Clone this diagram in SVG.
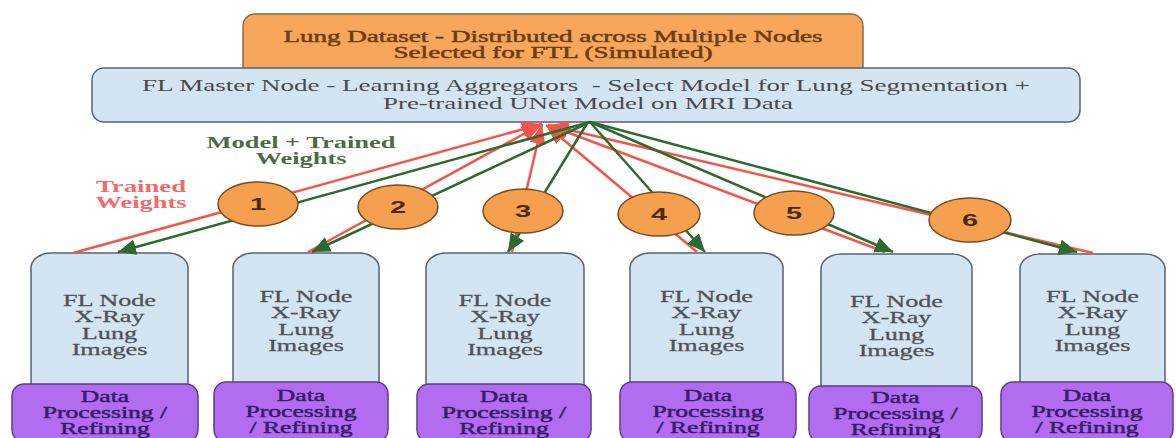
<svg xmlns="http://www.w3.org/2000/svg" width="1176" height="438" viewBox="0 0 1176 438">
<defs>
<style>
.serif{font-family:"Liberation Serif","Times New Roman",serif;}
.sans{font-family:"Liberation Sans",Arial,sans-serif;}
.orange{fill:#f7a65c;stroke:#8c6a4a;stroke-width:1.5;}
.blue{fill:#d3e5f3;stroke:#5a6270;stroke-width:1.5;}
.purple{fill:#b16cf0;stroke:#5b3b86;stroke-width:1.5;}
.circ{fill:#f5a04f;stroke:#7a4a20;stroke-width:1.5;}
.t-orange{fill:#6b3d12;stroke:#6b3d12;stroke-width:0.45;font-size:16px;text-anchor:middle;}
.t-master{fill:#4a4a4a;font-size:17px;text-anchor:middle;}
.t-node{fill:#4d5257;stroke:#4d5257;stroke-width:0.25;font-size:16px;text-anchor:middle;}
.t-purple{fill:#3a1a6a;stroke:#3a1a6a;stroke-width:0.45;font-size:16px;text-anchor:middle;}
.t-num{fill:#4a2a12;font-size:17px;font-weight:bold;text-anchor:middle;}
.t-green{fill:#4f6b45;font-size:16px;font-weight:bold;text-anchor:middle;}
.t-red{fill:#f26a6a;font-size:16px;font-weight:bold;text-anchor:middle;}
.red{stroke:#f4554a;stroke-width:2.5;fill:none;}
.green{stroke:#2d6a2f;stroke-width:2.5;fill:none;}
</style>
<marker id="ahg" markerUnits="userSpaceOnUse" markerWidth="20" markerHeight="18" refX="18" refY="8" orient="auto">
<path d="M0,0 L18,8 L0,16 z" fill="#2d6a2f"/>
</marker>
<marker id="ahr" markerUnits="userSpaceOnUse" markerWidth="22" markerHeight="18" refX="20" refY="8" orient="auto">
<path d="M0,0 L20,8 L0,16 z" fill="#f4554a"/>
</marker>
</defs>

<g id="dataset">
<rect class="orange" x="243" y="14" width="620" height="66" rx="12"/>
<text class="serif t-orange" x="553" y="42" textLength="539" lengthAdjust="spacingAndGlyphs">Lung Dataset - Distributed across Multiple Nodes</text>
<text class="serif t-orange" x="553" y="58" textLength="319" lengthAdjust="spacingAndGlyphs">Selected for FTL (Simulated)</text>
</g>

<g id="master">
<rect class="blue" x="92" y="68" width="988" height="54" rx="12"/>
<text class="serif t-master" x="586" y="91" textLength="888" lengthAdjust="spacingAndGlyphs" xml:space="preserve">FL Master Node - Learning Aggregators  - Select Model for Lung Segmentation +</text>
<text class="serif t-master" x="588" y="109" textLength="410" lengthAdjust="spacingAndGlyphs">Pre-trained UNet Model on MRI Data</text>
</g>

<g id="labels">
<text class="serif t-green" x="301" y="148" textLength="189" lengthAdjust="spacingAndGlyphs">Model + Trained</text>
<text class="serif t-green" x="301" y="164" textLength="91" lengthAdjust="spacingAndGlyphs">Weights</text>
<text class="serif t-red" x="141" y="192" textLength="90" lengthAdjust="spacingAndGlyphs">Trained</text>
<text class="serif t-red" x="141" y="208" textLength="91" lengthAdjust="spacingAndGlyphs">Weights</text>
</g>

<g id="node1">
<rect class="blue" x="31" y="253" width="157" height="150" rx="20" ry="15"/>
<text class="serif t-node" transform="translate(109.5,0) scale(1.64,1)"><tspan x="0" y="306">FL Node</tspan><tspan x="0" y="322.5">X-Ray</tspan><tspan x="0" y="339">Lung</tspan><tspan x="0" y="355">Images</tspan></text>
<rect class="purple" x="12" y="384" width="186" height="58" rx="12"/>
<text class="serif t-purple" transform="translate(105,0) scale(1.6,1)"><tspan x="0" y="402">Data</tspan><tspan x="0" y="418">Processing /</tspan><tspan x="0" y="434">Refining</tspan></text>
</g>

<g id="node2">
<rect class="blue" x="233" y="253" width="146" height="150" rx="20" ry="15"/>
<text class="serif t-node" transform="translate(306,0) scale(1.64,1)"><tspan x="0" y="302">FL Node</tspan><tspan x="0" y="318.5">X-Ray</tspan><tspan x="0" y="335">Lung</tspan><tspan x="0" y="351">Images</tspan></text>
<rect class="purple" x="214" y="382" width="174" height="60" rx="12"/>
<text class="serif t-purple" transform="translate(301,0) scale(1.6,1)"><tspan x="0" y="401">Data</tspan><tspan x="0" y="417">Processing</tspan><tspan x="0" y="433">/ Refining</tspan></text>
</g>

<g id="node3">
<rect class="blue" x="426" y="253" width="158" height="150" rx="20" ry="15"/>
<text class="serif t-node" transform="translate(505,0) scale(1.64,1)"><tspan x="0" y="306">FL Node</tspan><tspan x="0" y="322.5">X-Ray</tspan><tspan x="0" y="339">Lung</tspan><tspan x="0" y="355">Images</tspan></text>
<rect class="purple" x="417" y="384" width="174" height="58" rx="12"/>
<text class="serif t-purple" transform="translate(504,0) scale(1.6,1)"><tspan x="0" y="402">Data</tspan><tspan x="0" y="418">Processing /</tspan><tspan x="0" y="434">Refining</tspan></text>
</g>

<g id="node4">
<rect class="blue" x="630" y="253" width="153" height="150" rx="20" ry="15"/>
<text class="serif t-node" transform="translate(706.5,0) scale(1.64,1)"><tspan x="0" y="302">FL Node</tspan><tspan x="0" y="318.5">X-Ray</tspan><tspan x="0" y="335">Lung</tspan><tspan x="0" y="351">Images</tspan></text>
<rect class="purple" x="620" y="382" width="176" height="60" rx="12"/>
<text class="serif t-purple" transform="translate(708,0) scale(1.6,1)"><tspan x="0" y="401">Data</tspan><tspan x="0" y="417">Processing</tspan><tspan x="0" y="433">/ Refining</tspan></text>
</g>

<g id="node5">
<rect class="blue" x="821" y="254" width="151" height="150" rx="20" ry="15"/>
<text class="serif t-node" transform="translate(896.5,0) scale(1.64,1)"><tspan x="0" y="307">FL Node</tspan><tspan x="0" y="323.5">X-Ray</tspan><tspan x="0" y="340">Lung</tspan><tspan x="0" y="356">Images</tspan></text>
<rect class="purple" x="809" y="386" width="173" height="56" rx="12"/>
<text class="serif t-purple" transform="translate(895.5,0) scale(1.6,1)"><tspan x="0" y="403">Data</tspan><tspan x="0" y="419">Processing /</tspan><tspan x="0" y="435">Refining</tspan></text>
</g>

<g id="node6">
<rect class="blue" x="1020" y="254" width="145" height="150" rx="20" ry="15"/>
<text class="serif t-node" transform="translate(1092.5,0) scale(1.64,1)"><tspan x="0" y="302">FL Node</tspan><tspan x="0" y="318.5">X-Ray</tspan><tspan x="0" y="335">Lung</tspan><tspan x="0" y="351">Images</tspan></text>
<rect class="purple" x="1001" y="382" width="172" height="60" rx="12"/>
<text class="serif t-purple" transform="translate(1087,0) scale(1.6,1)"><tspan x="0" y="401">Data</tspan><tspan x="0" y="417">Processing</tspan><tspan x="0" y="433">/ Refining</tspan></text>
</g>

<g id="connectors">
<path class="red" d="M73,253 L542,124" marker-end="url(#ahr)"/>
<path class="red" d="M308,252 L542,124" marker-end="url(#ahr)"/>
<path class="red" d="M512,252 L542,124" marker-end="url(#ahr)"/>
<path class="red" d="M697,252 L546,125" marker-end="url(#ahr)"/>
<path class="red" d="M885,252 L548,125" marker-end="url(#ahr)"/>
<path class="red" d="M1093,253 L548,125" marker-end="url(#ahr)"/>
<path class="green" d="M590,122 L118,252" marker-end="url(#ahg)"/>
<path class="green" d="M590,122 L312,252" marker-end="url(#ahg)"/>
<path class="green" d="M588,122 L508,252" marker-end="url(#ahg)"/>
<path class="green" d="M590,122 L705,252" marker-end="url(#ahg)"/>
<path class="green" d="M590,122 L893,252" marker-end="url(#ahg)"/>
<path class="green" d="M590,122 L1077,252" marker-end="url(#ahg)"/>
</g>

<g id="step1"><ellipse class="circ" cx="258" cy="204" rx="40" ry="22"/><text class="sans t-num" transform="translate(258,0) scale(1.7,1)" x="0" y="210">1</text></g>
<g id="step2"><ellipse class="circ" cx="398" cy="207" rx="40" ry="22"/><text class="sans t-num" transform="translate(398,0) scale(1.7,1)" x="0" y="213">2</text></g>
<g id="step3"><ellipse class="circ" cx="523" cy="211" rx="40" ry="22"/><text class="sans t-num" transform="translate(523,0) scale(1.7,1)" x="0" y="217">3</text></g>
<g id="step4"><ellipse class="circ" cx="659" cy="214" rx="41" ry="22"/><text class="sans t-num" transform="translate(659,0) scale(1.7,1)" x="0" y="220">4</text></g>
<g id="step5"><ellipse class="circ" cx="794" cy="213" rx="40" ry="22"/><text class="sans t-num" transform="translate(794,0) scale(1.7,1)" x="0" y="219">5</text></g>
<g id="step6"><ellipse class="circ" cx="970" cy="220" rx="41" ry="22"/><text class="sans t-num" transform="translate(970,0) scale(1.7,1)" x="0" y="226">6</text></g>
</svg>
